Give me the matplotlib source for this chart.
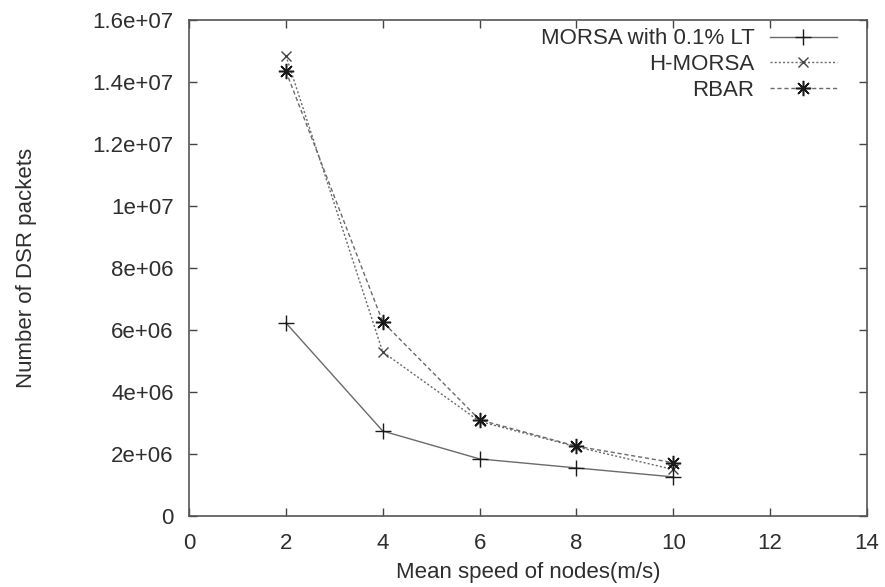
import matplotlib.pyplot as plt
import numpy as np

plt.rcParams['font.family'] = ['Liberation Sans', 'DejaVu Sans']

# mean speed of nodes (m/s)
speed = [2, 4, 6, 8, 10]

# number of DSR packets
morsa_lt = [6.23e6, 2.74e6, 1.84e6, 1.55e6, 1.26e6]
h_morsa = [14.85e6, 5.29e6, 3.05e6, 2.23e6, 1.50e6]
rbar = [14.35e6, 6.26e6, 3.10e6, 2.25e6, 1.72e6]

xticks = [0, 2, 4, 6, 8, 10, 12, 14]
yticks = np.arange(0, 1.6e7 + 1, 2e6)
ytick_labels = ['0', '2e+06', '4e+06', '6e+06', '8e+06',
                '1e+07', '1.2e+07', '1.4e+07', '1.6e+07']

fig = plt.figure(figsize=(8.85, 5.87), dpi=100)
ax = fig.add_axes([0.2136, 0.121, 0.7661, 0.845])

txt = '#2e2e2e'
ln = '#6a6a6a'

ax.plot(speed, morsa_lt, color=ln, lw=1.0, ls='-',
        marker='+', ms=11, mec='#1a1a1a', mew=1.0, label='MORSA with 0.1% LT')
ax.plot(speed, h_morsa, color=ln, lw=1.0, ls=(0, (1.5, 1.5)),
        marker='x', ms=7, mec='#444444', mew=1.0, label='H-MORSA')
ax.plot(speed, rbar, color=ln, lw=1.0, ls=(0, (3, 2)),
        marker=(8, 2, 0), ms=11, mec='#1a1a1a', mew=1.1, label='RBAR')

ax.set_xlim(0, 14)
ax.set_ylim(0, 1.6e7)
ax.set_xticks(xticks)
ax.set_xticklabels([str(v) for v in xticks])
ax.set_yticks(yticks)
ax.set_yticklabels(ytick_labels)

ax.tick_params(direction='in', length=6, width=1.0, color='#444444',
               labelsize=16, labelcolor=txt, top=True, right=True, pad=11)
ax.tick_params(axis='x', pad=12)
for s in ax.spines.values():
    s.set_color('#555555')
    s.set_linewidth(1.2)

ax.set_xlabel('Mean speed of nodes(m/s)', fontsize=16, color=txt, labelpad=6)
ax.set_ylabel('Number of DSR packets', fontsize=16, color=txt, labelpad=40)

leg = ax.legend(loc='upper right', frameon=False, markerfirst=False,
                fontsize=16, handlelength=3.0, handletextpad=0.7,
                labelspacing=0.22, borderaxespad=0.2,
                bbox_to_anchor=(0.975, 1.01))
for t in leg.get_texts():
    t.set_color(txt)

fig.savefig('out.png', dpi=100)
